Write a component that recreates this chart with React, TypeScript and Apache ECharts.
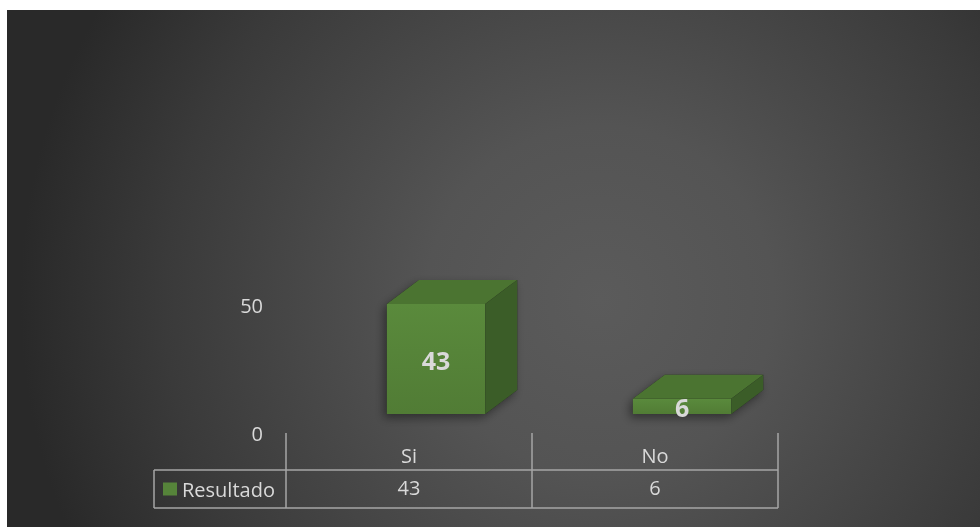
import React, { useEffect, useRef } from 'react';
import * as echarts from 'echarts';

const categories = ['Si', 'No'];
const resultado = [43, 6];
const seriesName = 'Resultado';
const yMin = 0;
const yMax = 50;
const yInterval = 50;

export default function App() {
  const ref = useRef<HTMLDivElement>(null);
  useEffect(() => {
    const chart = echarts.init(ref.current as HTMLDivElement, null, { renderer: 'svg' });
    const txt = '#d9d9d9';
    const lineC = '#a6a6a6';
    const font = 'Open Sans';
    const renderItem = (params: any, api: any) => {
      const i = api.value(0);
      const v = api.value(1);
      const base = api.coord([i, 0]);
      const top = api.coord([i, v]);
      const bw = api.size([1, 0])[0];
      const cx = base[0] + bw * 0.11;
      const hw = bw * 0.2;
      const lift = 19;
      const yb = base[1] - lift;
      const yt = top[1] - lift;
      const x0 = cx - hw;
      const x1 = cx + hw;
      const dx = bw * 0.13;
      const dy = -dx * 0.75;
      return {
        type: 'group',
        children: [
          {
            type: 'polygon',
            shape: { points: [[x0, yb], [x1, yb], [x1 + dx, yb + dy], [x1 + dx, yt + dy], [x0 + dx, yt + dy], [x0, yt]] },
            style: { fill: 'rgba(20,20,20,0.6)', shadowBlur: 10, shadowColor: 'rgba(0,0,0,0.7)', shadowOffsetX: -3, shadowOffsetY: 4 },
          },
          {
            type: 'polygon',
            shape: { points: [[x0, yb], [x1, yb], [x1, yt], [x0, yt]] },
            style: {
              fill: new echarts.graphic.LinearGradient(0, 0, 0, 1, [
                { offset: 0, color: '#5a8a3c' },
                { offset: 1, color: '#517c35' },
              ]),
            },
          },
          {
            type: 'polygon',
            shape: { points: [[x0, yt], [x1, yt], [x1 + dx, yt + dy], [x0 + dx, yt + dy]] },
            style: { fill: '#4b7431' },
          },
          {
            type: 'polygon',
            shape: { points: [[x1, yb], [x1 + dx, yb + dy], [x1 + dx, yt + dy], [x1, yt]] },
            style: { fill: '#3b5d28' },
          },
          {
            type: 'text',
            style: {
              text: String(v),
              x: cx,
              y: (yb + yt) / 2 + 1,
              align: 'center',
              verticalAlign: 'middle',
              fontSize: 25,
              fontWeight: 'bold',
              fontFamily: font,
              fill: txt,
            },
          },
        ],
      };
    };
    const option: any = {
      animation: false,
      textStyle: { fontFamily: font },
      graphic: [
        {
          type: 'rect',
          z: -10,
          silent: true,
          shape: { x: 7, y: 10, width: 973, height: 517 },
          style: {
            fill: new echarts.graphic.RadialGradient(600, 300, 580, [
              { offset: 0, color: '#5b5b5b' },
              { offset: 0.3, color: '#545454' },
              { offset: 0.75, color: '#3a3a3a' },
              { offset: 1, color: '#292929' },
            ], true),
          },
        },
        { type: 'line', shape: { x1: 154, y1: 470, x2: 778, y2: 470 }, style: { stroke: lineC, lineWidth: 1.5 } },
        { type: 'line', shape: { x1: 154, y1: 508, x2: 778, y2: 508 }, style: { stroke: lineC, lineWidth: 1.5 } },
        { type: 'line', shape: { x1: 154, y1: 470, x2: 154, y2: 508 }, style: { stroke: lineC, lineWidth: 1.5 } },
      ],
      grid: { left: 286, right: 202, top: 305, bottom: 94 },
      legend: {
        data: [{ name: seriesName, icon: 'rect' }],
        left: 163,
        top: 479,
        itemWidth: 14,
        itemHeight: 13,
        padding: 0,
        selectedMode: false,
        textStyle: { color: txt, fontSize: 20, fontFamily: font },
      },
      xAxis: [
        {
          type: 'category',
          data: categories,
          axisLine: { show: false },
          axisTick: { show: true, length: 75, lineStyle: { color: lineC, width: 1.5 } },
          axisLabel: { color: txt, fontSize: 20, margin: 12 },
          splitLine: { show: false },
        },
        {
          type: 'category',
          data: resultado.map(String),
          position: 'bottom',
          offset: 32,
          axisLine: { show: false },
          axisTick: { show: false },
          axisLabel: { color: txt, fontSize: 20, margin: 12 },
          splitLine: { show: false },
        },
      ],
      yAxis: {
        type: 'value',
        min: yMin,
        max: yMax,
        interval: yInterval,
        axisLine: { show: false },
        axisTick: { show: false },
        splitLine: { show: false },
        axisLabel: { color: txt, fontSize: 20, margin: 23 },
      },
      series: [
        {
          type: 'custom',
          name: seriesName,
          data: resultado.map((v, i) => [i, v]),
          encode: { x: 0, y: 1 },
          clip: false,
          itemStyle: { color: '#56843a' },
          renderItem,
        },
      ],
    };
    chart.setOption(option);
    return () => chart.dispose();
  }, []);
  return <div ref={ref} style={{ position: 'fixed', left: 0, top: 0, width: 980, height: 527 }} />;
}
